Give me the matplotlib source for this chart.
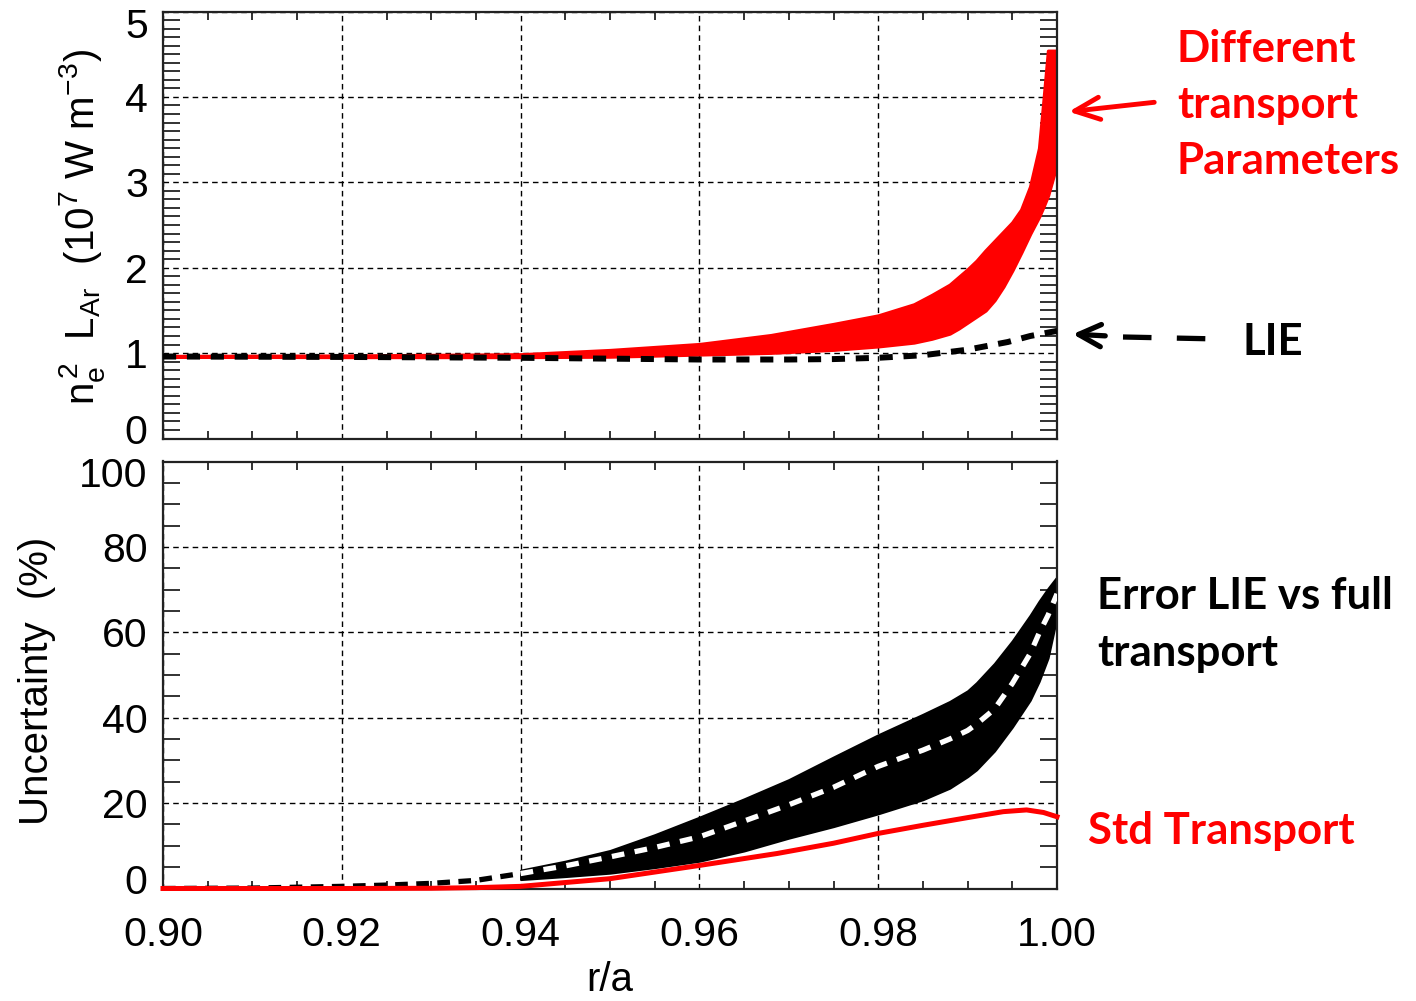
import numpy as np
import matplotlib
matplotlib.use('Agg')
import matplotlib.pyplot as plt
from matplotlib.ticker import MultipleLocator
from matplotlib.transforms import ScaledTranslation
from matplotlib.lines import Line2D
from matplotlib.patches import FancyArrowPatch

# ---------------- data ----------------
# top panel: band of emissivity for different transport parameters
x_top = [0.900, 0.920, 0.940, 0.950, 0.960, 0.968, 0.975, 0.980, 0.984, 0.986, 0.988,
         0.989, 0.990, 0.991, 0.992, 0.993, 0.994, 0.995, 0.996, 0.997, 0.998,
         0.9985, 0.999, 1.000]
top_upper = [0.965, 0.970, 0.985, 1.035, 1.105, 1.21, 1.34, 1.44, 1.57, 1.68, 1.80,
             1.89, 1.98, 2.08, 2.20, 2.31, 2.42, 2.53, 2.68, 2.95, 3.40,
             3.96, 4.54, 4.54]
top_lower = [0.960, 0.955, 0.955, 0.960, 0.985, 1.005, 1.04, 1.08, 1.125, 1.17, 1.23,
             1.29, 1.36, 1.43, 1.50, 1.62, 1.78, 1.97, 2.18, 2.40, 2.60,
             2.72, 2.85, 3.22]
# LIE curve (top panel)
x_lie = [0.90, 0.92, 0.94, 0.95, 0.96, 0.97, 0.975, 0.98, 0.985, 0.99, 0.9945, 0.997, 1.0]
y_lie = [0.96, 0.955, 0.945, 0.935, 0.925, 0.925, 0.93, 0.945, 0.975, 1.04, 1.13, 1.20, 1.26]

# bottom panel: uncertainty band (Error LIE vs full transport)
x_bot = [0.940, 0.945, 0.950, 0.955, 0.960, 0.965, 0.970, 0.975, 0.980, 0.985,
         0.988, 0.990, 0.991, 0.993, 0.995, 0.997, 0.998, 0.999, 1.000]
bot_upper = [4.3, 6.4, 8.9, 12.6, 16.7, 21.0, 25.5, 30.8, 36.0, 40.8,
             43.8, 46.3, 48.2, 52.7, 58.0, 64.0, 67.3, 70.3, 73.0]
bot_lower = [2.1, 2.8, 3.6, 4.9, 6.4, 8.8, 11.8, 14.5, 17.5, 20.8,
             23.5, 26.2, 27.8, 32.2, 37.8, 44.1, 48.5, 54.0, 63.6]
bot_center = [3.5, 5.3, 7.4, 9.6, 12.1, 15.8, 19.6, 23.7, 28.6, 32.4,
              35.0, 37.0, 38.5, 42.0, 48.0, 55.0, 59.8, 64.0, 69.0]
# mean error before the band starts
x_pre = [0.900, 0.910, 0.915, 0.920, 0.925, 0.930, 0.935, 0.940]
y_pre = [0.0, 0.1, 0.3, 0.5, 0.8, 1.2, 1.9, 3.5]
# Std transport
x_std = [0.90, 0.92, 0.93, 0.935, 0.94, 0.95, 0.96, 0.9687, 0.975, 0.98,
         0.985, 0.99, 0.994, 0.9966, 0.9985, 1.0]
y_std = [0.0, 0.0, 0.05, 0.2, 0.5, 2.3, 5.4, 8.2, 10.6, 12.9,
         14.8, 16.6, 18.0, 18.4, 17.8, 16.8]

x_ticks = [0.90, 0.92, 0.94, 0.96, 0.98, 1.00]
x_ticklabels = ['0.90', '0.92', '0.94', '0.96', '0.98', '1.00']
top_yticks = [0, 1, 2, 3, 4, 5]
bot_yticks = [0, 20, 40, 60, 80, 100]

# ---------------- style ----------------
plt.rcParams['font.family'] = ['Liberation Sans', 'DejaVu Sans']
plt.rcParams['mathtext.fontset'] = 'custom'
plt.rcParams['mathtext.rm'] = 'Liberation Sans'
plt.rcParams['mathtext.it'] = 'Liberation Sans'
plt.rcParams['mathtext.bf'] = 'Liberation Sans:bold'

W, H = 1416, 1001
fig = plt.figure(figsize=(W / 100, H / 100), dpi=100)


def px(x, y):
    return (x / W, 1 - y / H)


ax1 = fig.add_axes([163 / W, 1 - 438.5 / H, 894 / W, 427 / H])
ax2 = fig.add_axes([163 / W, 1 - 888.5 / H, 894 / W, 427 / H])

for ax in (ax1, ax2):
    ax.set_xlim(0.9, 1.0)
    ax.set_xticks(x_ticks)
    ax.set_xticklabels(x_ticklabels)
    ax.xaxis.set_minor_locator(MultipleLocator(0.005))
    ax.tick_params(which='both', direction='in', top=True, right=True)
    ax.tick_params(which='major', length=0, labelsize=29.5)
    ax.tick_params(axis='x', which='minor', length=6, width=1.3, color='#222222')
    ax.tick_params(axis='y', which='minor', length=12, width=1.3, color='#222222')
    ax.tick_params(axis='x', pad=20)
    ax.tick_params(axis='y', pad=11)
    ax.grid(True, which='major', color='black', linestyle=(0, (4, 3)), linewidth=1.0)
    ax.set_axisbelow(True)
    for s in ax.spines.values():
        s.set_linewidth(1.6)
        s.set_color('#222222')

ax1.set_ylim(0, 5)
ax1.set_yticks(top_yticks)
ax1.yaxis.set_minor_locator(MultipleLocator(0.1))
ax1.tick_params(labelbottom=False)

ax2.set_ylim(0, 100)
ax2.set_yticks(bot_yticks)
ax2.yaxis.set_minor_locator(MultipleLocator(5))

# shift edge y tick labels inward like the original
for ax in (ax1, ax2):
    labels = ax.get_yticklabels()
    labels[0].set_transform(labels[0].get_transform() +
                            ScaledTranslation(0, 0.10, fig.dpi_scale_trans))
    labels[-1].set_transform(labels[-1].get_transform() +
                             ScaledTranslation(0, -0.11, fig.dpi_scale_trans))

# ---------------- data drawing ----------------
ax1.fill_between(x_top, top_lower, top_upper, facecolor='red', edgecolor='red',
                 linewidth=2.5, zorder=2)
ax1.plot(x_lie, y_lie, color='black', lw=4.3, dashes=(2.2, 1.8), zorder=3)

ax2.fill_between(x_bot, bot_lower, bot_upper, facecolor='black', edgecolor='black',
                 linewidth=1.5, zorder=2)
ax2.plot(x_bot, bot_center, color='white', lw=3.8, dashes=(2.4, 2.0), zorder=3)
ax2.plot(x_pre, y_pre, color='black', lw=3.8, dashes=(2.4, 1.6), zorder=3)
ax2.plot(x_std, y_std, color='red', lw=3.6, zorder=4, clip_on=False)

# ---------------- labels ----------------
ax1.set_ylabel(r'$\mathregular{n_e^{\,2}\ \ L_{Ar}\ \ (10^{7}\ W\ m^{-3})}$',
               fontsize=29, va='center')
ax1.yaxis.set_label_coords((82 - 163) / 894, (438.5 - 227) / 427)
ax2.set_ylabel('Uncertainty  (%)', fontsize=29, va='center')
ax2.yaxis.set_label_coords((37 - 163) / 894, (888.5 - 681) / 427)
ax2.set_xlabel('r/a', fontsize=29)
ax2.xaxis.set_label_coords(0.5, (888.5 - 980) / 427)
ax2.xaxis.label.set_va('center')

# ---------------- annotations ----------------
afont = dict(family=['Lato', 'DejaVu Sans'], fontweight='bold', fontsize=31.5)
fig.text(*px(1177, 62), 'Different', color='red', va='baseline', ha='left', **afont)
fig.text(*px(1177, 118), 'transport', color='red', va='baseline', ha='left', **afont)
fig.text(*px(1177, 174), 'Parameters', color='red', va='baseline', ha='left', **afont)
fig.text(*px(1242, 355), 'LIE', color='black', va='baseline', ha='left', **afont)
fig.text(*px(1097, 609), 'Error LIE vs full', color='black', va='baseline', ha='left', **afont)
fig.text(*px(1097, 666), 'transport', color='black', va='baseline', ha='left', **afont)
fig.text(*px(1088, 844), 'Std Transport', color='red', va='baseline', ha='left', **afont)

# red arrow
fig.add_artist(FancyArrowPatch(
    px(1157, 102), px(1066, 112), transform=fig.transFigure,
    arrowstyle='->,head_length=1.8,head_width=0.8', mutation_scale=10,
    color='red', lw=3.5))
# black dashed arrow: solid head + first dash, then dashes
fig.add_artist(FancyArrowPatch(
    px(1108, 336), px(1070, 334), transform=fig.transFigure,
    arrowstyle='->,head_length=1.6,head_width=0.8', mutation_scale=10,
    color='black', lw=3.8))
fig.add_artist(Line2D([1123 / W, 1220 / W], [1 - 337 / H, 1 - 339 / H],
                      transform=fig.transFigure, color='black', lw=3.8,
                      dashes=(5.4, 4.8)))

fig.savefig('out.png', dpi=100)
